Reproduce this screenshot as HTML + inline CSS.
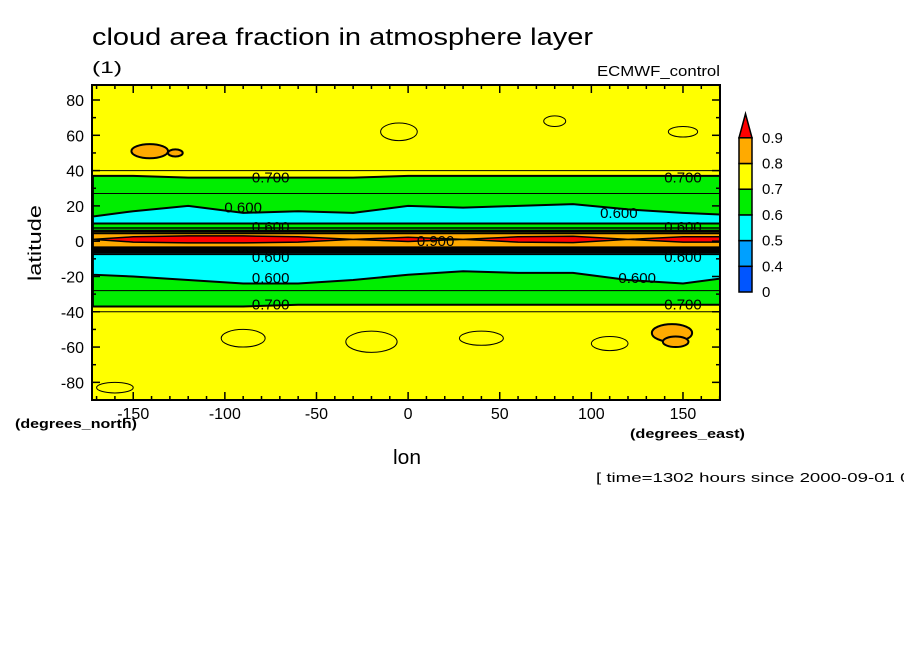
<!DOCTYPE html>
<html><head><meta charset="utf-8"><style>
body{margin:0;background:#fff;width:904px;height:654px;overflow:hidden;font-family:"Liberation Sans",sans-serif}
svg text{font-family:"Liberation Sans",sans-serif}
</style></head><body>
<svg id="chart" width="904" height="654" xmlns="http://www.w3.org/2000/svg">
<text x="92" y="45" font-size="24" textLength="501" lengthAdjust="spacingAndGlyphs">cloud area fraction in atmosphere layer</text>
<text x="92" y="73" font-size="17" textLength="30" lengthAdjust="spacingAndGlyphs">(1)</text>
<text x="597" y="76" font-size="15" textLength="123" lengthAdjust="spacingAndGlyphs">ECMWF_control</text>
<g id="plot"></g>
<g id="axes"></g>
<g id="cbar"></g>
<text x="41" y="243" font-size="18" text-anchor="middle" textLength="76" lengthAdjust="spacingAndGlyphs" transform="rotate(-90 41 243)">latitude</text>
<text x="15" y="428" font-size="13" font-weight="bold" textLength="122" lengthAdjust="spacingAndGlyphs">(degrees_north)</text>
<text x="393" y="464" font-size="20" textLength="28" lengthAdjust="spacingAndGlyphs">lon</text>
<text x="630" y="438" font-size="13" font-weight="bold" textLength="115" lengthAdjust="spacingAndGlyphs">(degrees_east)</text>
<text x="596" y="482" font-size="13" textLength="330" lengthAdjust="spacingAndGlyphs">[ time=1302 hours since 2000-09-01 00:</text>
</svg>
<script>
const lons=[-172,-150,-120,-90,-60,-30,0,30,60,90,120,150,172];
const g_n=[37,37,36,36,36,36,37,37,37,37,37,37,37];
const c_n=[14,17,20,16,17,16,20,19,20,21,18,16,15];
const e_n=[10,10,10,10,10,10,10,10,10,10,10,10,10];
const y_n=[6,6,6,6,6,6,6,6,6,6,6,6,6];
const o_n=[4.5,4.5,4.5,4.5,4.5,4.5,4.5,4.5,4.5,4.5,4.5,4.5,4.5];
const r_w=[0,1.5,2,2,1.5,0,1.2,0,1.5,1.8,0,1.5,1.5];
const o_s=[-3.5,-3.5,-3.5,-3.5,-3.5,-3.5,-3.5,-3.5,-3.5,-3.5,-3.5,-3.5,-3.5];
const y_s=[-5,-5,-5,-5,-5,-5,-5,-5,-5,-5,-5,-5,-5];
const e_s=[-6.5,-6.5,-6.5,-6.5,-6.5,-6.5,-6.5,-6.5,-6.5,-6.5,-6.5,-6.5,-6.5];
const c_s=[-19,-20,-22,-24,-24,-22,-19,-17,-18,-18,-22,-24,-21];
const g_s=[-37,-37,-37,-37,-36,-36,-36,-36,-36,-36,-36,-36,-36];
const xTicks=[-150,-100,-50,0,50,100,150];
const yTicks=[-80,-60,-40,-20,0,20,40,60,80];
const cbLevels=["0","0.4","0.5","0.6","0.7","0.8","0.9"];
const cbColors=["#0055ff","#00a0ff","#00ffff","#00ee00","#ffff00","#ffaa00","#ff0000"];
const X0=92,X1=720,Y0=85,Y1=400,LON0=-172.5,LON1=170.2,LAT0=-90,LAT1=88.5;
const sx=l=>X0+(l-LON0)/(LON1-LON0)*(X1-X0);
const sy=l=>Y1-(l-LAT0)/(LAT1-LAT0)*(Y1-Y0);
const NS="http://www.w3.org/2000/svg";
const plot=document.getElementById('plot');
function mk(tag,attrs,parent){const e=document.createElementNS(NS,tag);for(const k in attrs)e.setAttribute(k,attrs[k]);parent.appendChild(e);return e;}
const clip=mk('clipPath',{id:'pc'},document.getElementById('chart'));
mk('rect',{x:X0,y:Y0,width:X1-X0,height:Y1-Y0},clip);
plot.setAttribute('clip-path','url(#pc)');
let bg=mk('rect',{x:X0,y:Y0,width:X1-X0,height:Y1-Y0,fill:'#ffff00'},plot);


function band(top,bot,fill,name,sw){
  let d='';
  lons.forEach((l,i)=>{d+=(i?'L':'M')+sx(l).toFixed(1)+','+sy(top[i]).toFixed(1);});
  for(let i=lons.length-1;i>=0;i--)d+='L'+sx(lons[i]).toFixed(1)+','+sy(bot[i]).toFixed(1);
  d+='Z';
  const p=mk('path',{d:d,fill:fill,stroke:'#000','stroke-width':sw},plot);
  
  
}
band(g_n,g_s,'#00ee00','band-0.7',2);
band(c_n,c_s,'#00ffff','band-0.6',2);
band(e_n,e_s,'#00ee00','band-itcz-0.6',2);
band(y_n,y_s,'#ffff00','band-itcz-0.7',2);
band(o_n,o_s,'#ffaa00','band-itcz-0.8',2);
band(r_w.map(w=>1+w),r_w.map(w=>1-w),'#ff0000','band-0.9',1.5);
[7.5,5.5,-4.2,-5.8,-7.5].forEach(v=>{const ln=mk('line',{x1:X0,x2:X1,y1:sy(v),y2:sy(v),stroke:'#000','stroke-width':1.5},plot);

});
const blobs=[[-141,51,10,4],[-127,50,4,2],[144,-52,11,5],[146,-57,7,3]];
blobs.forEach(b=>{const e=mk('ellipse',{cx:sx(b[0]),cy:sy(b[1]),rx:b[2]*(X1-X0)/(LON1-LON0),ry:b[3]*(Y1-Y0)/(LAT1-LAT0),fill:'#ffaa00',stroke:'#000','stroke-width':2},plot);

});
// thin 0.75 / 0.65 contours (outline only)
const rings=[[-90,-55,12,5],[-20,-57,14,6],[40,-55,12,4],[110,-58,10,4],[-5,62,10,5],[80,68,6,3],[150,62,8,3],[-160,-83,10,3]];
rings.forEach(b=>{const e=mk('ellipse',{cx:sx(b[0]),cy:sy(b[1]),rx:b[2]*(X1-X0)/(LON1-LON0),ry:b[3]*(Y1-Y0)/(LAT1-LAT0),fill:'none',stroke:'#000','stroke-width':1},plot);

});
[40,-40].forEach(v=>{const ln=mk('line',{x1:X0,x2:X1,y1:sy(v),y2:sy(v),stroke:'#000','stroke-width':1},plot);

});
[27,-28].forEach(v=>{const ln=mk('line',{x1:X0,x2:X1,y1:sy(v),y2:sy(v),stroke:'#000','stroke-width':1},plot);

});
const labs=[[-75,36,'0.700'],[-90,19,'0.600'],[-75,-21,'0.600'],[-75,-36,'0.700'],[150,36,'0.700'],[115,16,'0.600'],[125,-21,'0.600'],[150,-36,'0.700'],[15,0,'0.900'],[-75,8,'0.600'],[-75,-9,'0.600'],[150,8,'0.600'],[150,-9,'0.600']];
labs.forEach(L=>{const t=mk('text',{x:sx(L[0]),y:sy(L[1])+5,'font-size':15,'text-anchor':'middle'},plot);t.textContent=L[2];

});
const ax=document.getElementById('axes');
let fr=mk('rect',{x:X0,y:Y0,width:X1-X0,height:Y1-Y0,fill:'none',stroke:'#000','stroke-width':2},ax);


for(let l=-170;l<=170;l+=10){const big=l%50===0;const h=big?8:4;
mk('line',{x1:sx(l),x2:sx(l),y1:Y1,y2:Y1-h,stroke:'#000','stroke-width':1.5},ax);
mk('line',{x1:sx(l),x2:sx(l),y1:Y0,y2:Y0+h,stroke:'#000','stroke-width':1.5},ax);}
for(let l=-80;l<=80;l+=10){const big=l%20===0;const h=big?8:4;
mk('line',{x1:X0,x2:X0+h,y1:sy(l),y2:sy(l),stroke:'#000','stroke-width':1.5},ax);
mk('line',{x1:X1,x2:X1-h,y1:sy(l),y2:sy(l),stroke:'#000','stroke-width':1.5},ax);}
xTicks.forEach(v=>{const t=mk('text',{x:sx(v),y:419,'font-size':16,'text-anchor':'middle'},ax);t.textContent=v;

});
yTicks.forEach(v=>{const t=mk('text',{x:84,y:sy(v)+6,'font-size':16,'text-anchor':'end'},ax);t.textContent=v;

});
const cb=document.getElementById('cbar');
const CX=739,CW=13,CB=292,CH=25.7;
for(let i=0;i<6;i++){const r=mk('rect',{x:CX,y:CB-(i+1)*CH,width:CW,height:CH,fill:cbColors[i],stroke:'#000','stroke-width':1.5},cb);

}
const tri=mk('polygon',{points:`${CX},${CB-6*CH} ${CX+CW},${CB-6*CH} ${CX+CW/2},${CB-6*CH-24}`,fill:cbColors[6],stroke:'#000','stroke-width':1.5},cb);


cbLevels.forEach((s,i)=>{const t=mk('text',{x:762,y:CB-i*CH+5,'font-size':15},cb);t.textContent=s;

});
</script>
</body></html>
